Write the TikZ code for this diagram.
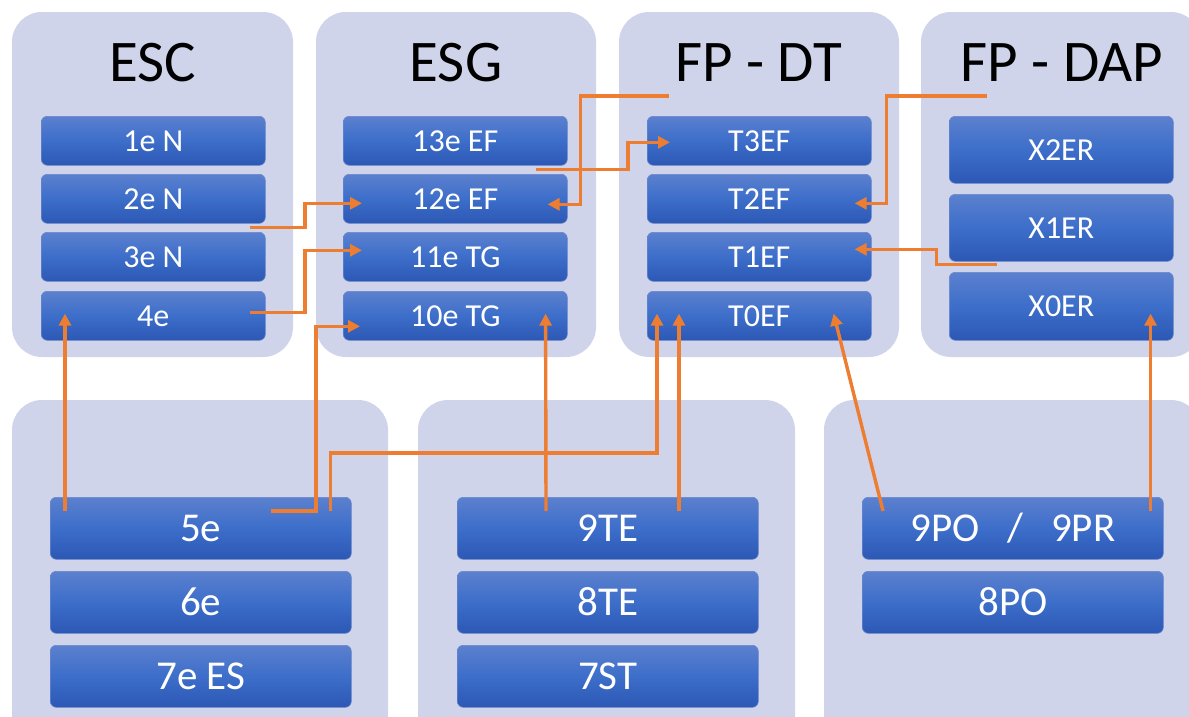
\documentclass[tikz,border=0pt]{standalone}
\usepackage{fontspec}
\setmainfont{Carlito}
\usetikzlibrary{calc,arrows.meta}

\definecolor{panelfill}{RGB}{208,212,234}
\definecolor{boxtop}{RGB}{92,128,206}
\definecolor{boxmid}{RGB}{60,110,202}
\definecolor{boxbot}{RGB}{44,88,180}
\definecolor{boxedge}{RGB}{105,135,205}
\definecolor{link}{RGB}{237,125,49}

\tikzset{
  panel/.style={fill=panelfill, rounded corners=30pt},
  title/.style={anchor=base, text=black, inner sep=0pt,
    font=\fontsize{59}{66}\selectfont},
  stepbox/.style={anchor=north west, rounded corners=6pt, inner sep=0pt,
    top color=boxtop, bottom color=boxbot, middle color=boxmid,
    draw=boxedge, line width=0.6pt, text=white,
    minimum width=224pt, minimum height=49pt,
    font=\fontsize{32}{38}\selectfont, text height=21pt, text depth=0pt},
  bigbox/.style={stepbox, minimum width=301pt, minimum height=62pt,
    font=\fontsize{41}{48}\selectfont, text height=26.5pt},
  dapbox/.style={stepbox, minimum height=67pt},
  conn/.style={draw=link, line width=3.4pt,
    -{Triangle[length=12pt,width=12pt]}},
}

\begin{document}
\begin{tikzpicture}[x=1pt,y=-1pt]
\useasboundingbox (0,0) rectangle (1189,716);
\clip (0,0) rectangle (1189,716);

% column panels
\fill[panel] (12,12) rectangle (293,357);
\fill[panel] (316,12) rectangle (596,357);
\fill[panel] (619,12) rectangle (899,357);
\fill[panel] (921,12) rectangle (1201,357);
\fill[panel] (12,400) rectangle (388,760);
\fill[panel] (418,400) rectangle (795,760);
\fill[panel] (824,400) rectangle (1201,760);

% column titles
\node[title] (tESC) at (152.5,81) {ESC};
\node[title] (tESG) at (456,81) {ESG};
\node[title] (tFPDT) at (759,81) {FP - DT};
\node[title] (tFPDAP) at (1062,81) {FP - DAP};

% ESC
\node[stepbox] (e1) at (41,116) {1e N};
\node[stepbox] (e2) at (41,174) {2e N};
\node[stepbox] (e3) at (41,232) {3e N};
\node[stepbox] (e4) at (41,291) {4e};

% ESG
\node[stepbox] (g13) at (343,116) {13e EF};
\node[stepbox] (g12) at (343,174) {12e EF};
\node[stepbox] (g11) at (343,232) {11e TG};
\node[stepbox] (g10) at (343,291) {10e TG};

% FP - DT
\node[stepbox] (t3) at (647,116) {T3EF};
\node[stepbox] (t2) at (647,174) {T2EF};
\node[stepbox] (t1) at (647,232) {T1EF};
\node[stepbox] (t0) at (647,291) {T0EF};

% FP - DAP
\node[dapbox] (x2) at (949,116) {X2ER};
\node[dapbox] (x1) at (949,194) {X1ER};
\node[dapbox, minimum height=68pt] (x0) at (949,272) {X0ER};

% lower panels
\node[bigbox] (b5) at (50,497) {5e};
\node[bigbox] (b6) at (50,571) {6e};
\node[bigbox] (b7) at (50,645) {7e ES};
\node[bigbox] (s9) at (457,497) {9TE};
\node[bigbox] (s8) at (457,571) {8TE};
\node[bigbox] (s7) at (457,645) {7ST};
\node[bigbox] (p9) at (862,497) {9PO\hspace{28pt}/\hspace{28pt}9PR};
\node[bigbox] (p8) at (862,571) {8PO};

% connectors
\draw[conn] ($(e2.south east)+(-16,4)$) -| ($(g12.west)+(-38,4.5)$) -- ($(g12.west)+(19,4.5)$);
\draw[conn] ($(e4.east)+(-16,-3.5)$) -| ($(g11.west)+(-38,-6.5)$) -- ($(g11.west)+(19,-6.5)$);
\draw[conn] ($(b5.north east)+(-81,14)$) -| ($(g10.west)+(-27,10.5)$) -- ($(g10.west)+(17,10.5)$);
\draw[conn] ($(b5.north east)+(-21,14)$) -- ++(0,-58) -| ($(t0.south west)+(10,-27)$);
\draw[conn] ($(b5.north west)+(15,14)$) -- ($(e4.south west)+(24,-27)$);
\draw[conn] ($(s9.north west)+(89,14)$) -- ($(g10.south east)+(-22,-27)$);
\draw[conn] ($(s9.north west)+(222,14)$) -- ($(t0.south west)+(32,-27)$);
\draw[conn] ($(p9.north west)+(21,14)$) -- ($(t0.south east)+(-38,-27)$);
\draw[conn] ($(p9.north east)+(-13,14)$) -- ($(x0.south east)+(-23,-27)$);
\draw[conn] ($(x1.south west)+(48,3)$) -| ($(t1.east)+(65,-7.5)$) -- ($(t1.east)+(-17,-7.5)$);
\draw[conn] ($(x2.north west)+(38,-20)$) -| ($(t2.east)+(15,4.5)$) -- ($(t2.east)+(-17,4.5)$);
\draw[conn] ($(t3.north west)+(22,-20)$) -| ($(g12.east)+(13,5.5)$) -- ($(g12.east)+(-20,5.5)$);
\draw[conn] ($(g13.south east)+(-32,4)$) -| ($(t3.west)+(-19,1.5)$) -- ($(t3.west)+(23,1.5)$);
\end{tikzpicture}
\end{document}
